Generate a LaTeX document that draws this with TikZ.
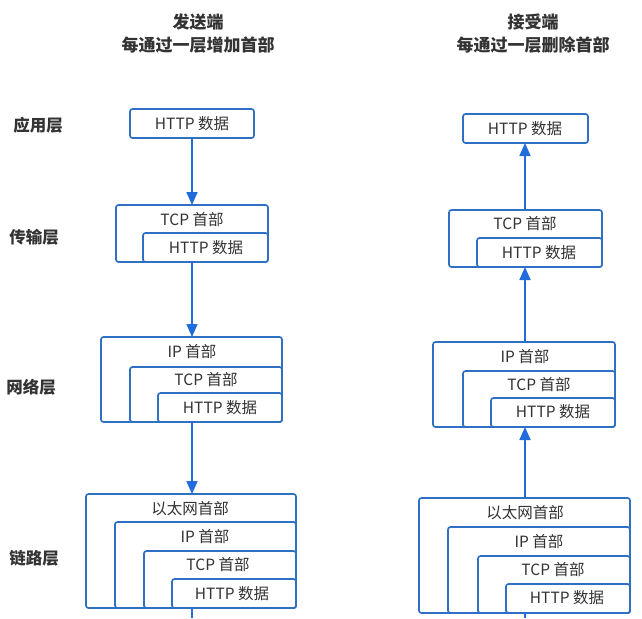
\documentclass[tikz,border=0pt]{standalone}
\usepackage{fontspec}
\setmainfont{Noto Sans CJK SC}
\usetikzlibrary{arrows.meta}

\definecolor{boxblue}{RGB}{46,112,196}
\definecolor{arrowblue}{RGB}{32,108,218}
\definecolor{txtgray}{RGB}{51,51,51}

\tikzset{
  box/.style={draw=boxblue, line width=1.7pt, rounded corners=2.5pt, fill=white,
    inner sep=0pt, outer sep=0pt, anchor=north west},
  lbl/.style={text=txtgray, font=\fontsize{15.5}{17}\selectfont, inner sep=0pt},
  layer/.style={text=txtgray, font=\bfseries\fontsize{16.5}{18}\selectfont, inner sep=0pt},
  title/.style={text=txtgray, font=\bfseries\fontsize{17}{23}\selectfont, align=center, inner sep=0pt},
  flow/.style={draw=arrowblue, line width=1.7pt, -{Triangle[width=11pt,length=13pt]}},
  link/.style={draw=arrowblue, line width=1.7pt}
}

\begin{document}
\begin{tikzpicture}[x=1pt, y=-1pt]
  \useasboundingbox (0,0) rectangle (642,618);

  % Titles
  \node[title] (sendTitle) at (198,34) {发送端\\每通过一层增加首部};
  \node[title] (recvTitle) at (533,34) {接受端\\每通过一层删除首部};

  % Layer names
  \node[layer] (appLayer)  at (38,125) {应用层};
  \node[layer] (tcpLayer)  at (34,237) {传输层};
  \node[layer] (ipLayer)   at (31,387) {网络层};
  \node[layer] (ethLayer)  at (34,558) {链路层};

  % Sender: application layer
  \node[box, minimum width=124pt, minimum height=29pt] (sendApp) at (130,109) {};
  \node[lbl] at (192,124) {HTTP 数据};

  % Sender: transport layer
  \node[box, minimum width=152pt, minimum height=57pt] (sendTcp) at (116,205) {};
  \node[box, minimum width=125pt, minimum height=29pt] (sendTcpHttp) at (143,233) {};
  \node[lbl] at (192,220) {TCP 首部};
  \node[lbl] at (206,248) {HTTP 数据};

  % Sender: network layer
  \node[box, minimum width=181pt, minimum height=85pt] (sendIp) at (101,337) {};
  \node[box, minimum width=152pt, minimum height=55pt] (sendIpTcp) at (130,367) {};
  \node[box, minimum width=124pt, minimum height=29pt] (sendIpHttp) at (158,393) {};
  \node[lbl] at (192,352) {IP 首部};
  \node[lbl] at (206,380) {TCP 首部};
  \node[lbl] at (220,408) {HTTP 数据};

  % Sender: link layer
  \node[box, minimum width=210pt, minimum height=114pt] (sendEth) at (86,494) {};
  \node[box, minimum width=181pt, minimum height=86pt] (sendEthIp) at (115,522) {};
  \node[box, minimum width=152pt, minimum height=57pt] (sendEthTcp) at (144,551) {};
  \node[box, minimum width=124pt, minimum height=29pt] (sendEthHttp) at (172,579) {};
  \node[lbl] at (190,509) {以太网首部};
  \node[lbl] at (205,537) {IP 首部};
  \node[lbl] at (218,565) {TCP 首部};
  \node[lbl] at (232,594) {HTTP 数据};

  % Receiver: application layer
  \node[box, minimum width=125pt, minimum height=29pt] (recvApp) at (463,114) {};
  \node[lbl] at (525,129) {HTTP 数据};

  % Receiver: transport layer
  \node[box, minimum width=153pt, minimum height=57pt] (recvTcp) at (449,210) {};
  \node[box, minimum width=125pt, minimum height=29pt] (recvTcpHttp) at (477,238) {};
  \node[lbl] at (525,224) {TCP 首部};
  \node[lbl] at (539,253) {HTTP 数据};

  % Receiver: network layer
  \node[box, minimum width=182pt, minimum height=85pt] (recvIp) at (433,342) {};
  \node[box, minimum width=152pt, minimum height=56pt] (recvIpTcp) at (463,371) {};
  \node[box, minimum width=124pt, minimum height=29pt] (recvIpHttp) at (491,398) {};
  \node[lbl] at (525,357) {IP 首部};
  \node[lbl] at (539,385) {TCP 首部};
  \node[lbl] at (553,412) {HTTP 数据};

  % Receiver: link layer
  \node[box, minimum width=211pt, minimum height=115pt] (recvEth) at (419,498) {};
  \node[box, minimum width=182pt, minimum height=86pt] (recvEthIp) at (448,527) {};
  \node[box, minimum width=152pt, minimum height=57pt] (recvEthTcp) at (478,556) {};
  \node[box, minimum width=124pt, minimum height=29pt] (recvEthHttp) at (506,584) {};
  \node[lbl] at (525,513) {以太网首部};
  \node[lbl] at (539,542) {IP 首部};
  \node[lbl] at (553,570) {TCP 首部};
  \node[lbl] at (567,598) {HTTP 数据};

  % Sender arrows (downwards)
  \coordinate (sendOut) at (192,618);
  \draw[flow] (sendApp.south) -- (sendApp.south |- sendTcp.north);
  \draw[flow] (sendApp.south |- sendTcp.south) -- (sendApp.south |- sendIp.north);
  \draw[flow] (sendApp.south |- sendIp.south) -- (sendApp.south |- sendEth.north);
  \draw[link] (sendOut |- sendEth.south) -- (sendOut);

  % Receiver arrows (upwards)
  \coordinate (recvIn) at (525,618);
  \draw[link] (recvIn) -- (recvIn |- recvEth.south);
  \draw[flow] (recvIn |- recvEth.north) -- (recvIn |- recvIp.south);
  \draw[flow] (recvIn |- recvIp.north) -- (recvIn |- recvTcp.south);
  \draw[flow] (recvIn |- recvTcp.north) -- (recvIn |- recvApp.south);
\end{tikzpicture}
\end{document}
